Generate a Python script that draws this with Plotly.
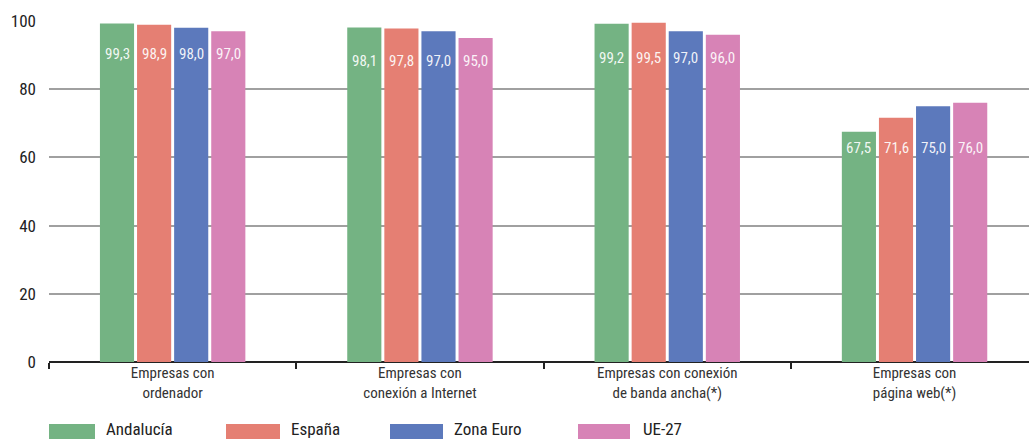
import plotly.graph_objects as go

categories = ["Empresas con<br>ordenador", "Empresas con<br>conexión a Internet",
              "Empresas con conexión<br>de banda ancha(*)", "Empresas con<br>página web(*)"]
series_names = ["Andalucía", "España", "Zona Euro", "UE-27"]
andalucia = [99.3, 98.1, 99.2, 67.5]
espana = [98.9, 97.8, 99.5, 71.6]
zona_euro = [98.0, 97.0, 97.0, 75.0]
ue27 = [97.0, 95.0, 96.0, 76.0]
y_ticks = [0, 20, 40, 60, 80, 100]

colors = ["#74B383", "#E57F73", "#5C79BC", "#D783B6"]
FONT = "Roboto Condensed, Liberation Sans Narrow, Roboto, sans-serif"

series = [andalucia, espana, zona_euro, ue27]
BARGAP = 0.40
GROUPGAP = 0.08

W, H = 1029, 439
ML, MR, MT, MB = 49, 0, 21, 77
PW = W - ML - MR
PH = H - MT - MB
cat_px = 247.3
x_range = [-0.5, -0.5 + PW / cat_px]

fig = go.Figure()
for name, vals, col in zip(series_names, series, colors):
    fig.add_trace(go.Bar(x=categories, y=vals, name=name, marker=dict(color=col, line=dict(width=0)),
                         showlegend=False, hoverinfo="x+y"))

# value labels (comma decimal)
slot = (1 - BARGAP) / len(series)
annotations = []
for ci in range(len(categories)):
    group_min = min(s[ci] for s in series)
    ly = group_min * 0.93
    for si, s in enumerate(series):
        xo = ci + (si - (len(series) - 1) / 2) * slot
        annotations.append(dict(x=xo, y=ly, xref="x", yref="y", showarrow=False,
                                text=f"{s[ci]:.1f}".replace(".", ","),
                                font=dict(family=FONT, size=15, color="rgba(255,255,255,0.92)")))

# manual legend with wide swatches
def px_x(p):
    return (p - ML) / PW

def px_y(p):
    return (H - MB - p) / PH

legend_pos = [(49, 95, 104), (226, 280, 289), (390, 443, 452), (578, 630, 641)]
shapes = []
for (x0, x1, tx), name, col in zip(legend_pos, series_names, colors):
    shapes.append(dict(type="rect", xref="paper", yref="paper", x0=px_x(x0), x1=px_x(x1),
                       y0=px_y(439), y1=px_y(424), fillcolor=col, line=dict(width=0)))
    annotations.append(dict(x=px_x(tx), y=px_y(429), xref="paper", yref="paper", showarrow=False,
                            xanchor="left", yanchor="middle", text=name,
                            font=dict(family=FONT, size=17, color="#222")))

fig.update_layout(
    width=W, height=H,
    margin=dict(l=ML, r=MR, t=MT, b=MB, pad=0, autoexpand=False),
    barmode="group", bargap=BARGAP, bargroupgap=GROUPGAP,
    plot_bgcolor="white", paper_bgcolor="white",
    font=dict(family=FONT, color="#222"),
    shapes=shapes, annotations=annotations,
    showlegend=False,
)
fig.update_xaxes(type="category", range=x_range, tickson="boundaries", ticks="outside", ticklen=6,
                 tickwidth=2, tickcolor="#222", showline=False, showgrid=False, automargin=False,
                 tickfont=dict(family=FONT, size=15, color="#333"))
fig.update_yaxes(range=[0, 100], tickvals=y_ticks, showgrid=True, gridcolor="#A0A0A0", gridwidth=2,
                 zeroline=True, zerolinecolor="#222", zerolinewidth=2, showline=False,
                 ticks="", ticklabelstandoff=12, automargin=False,
                 tickfont=dict(family=FONT, size=17, color="#222"))

fig.write_html("out.html", config={"displayModeBar": False},
               post_script="document.body.style.margin='0';document.body.style.overflow='hidden';")
